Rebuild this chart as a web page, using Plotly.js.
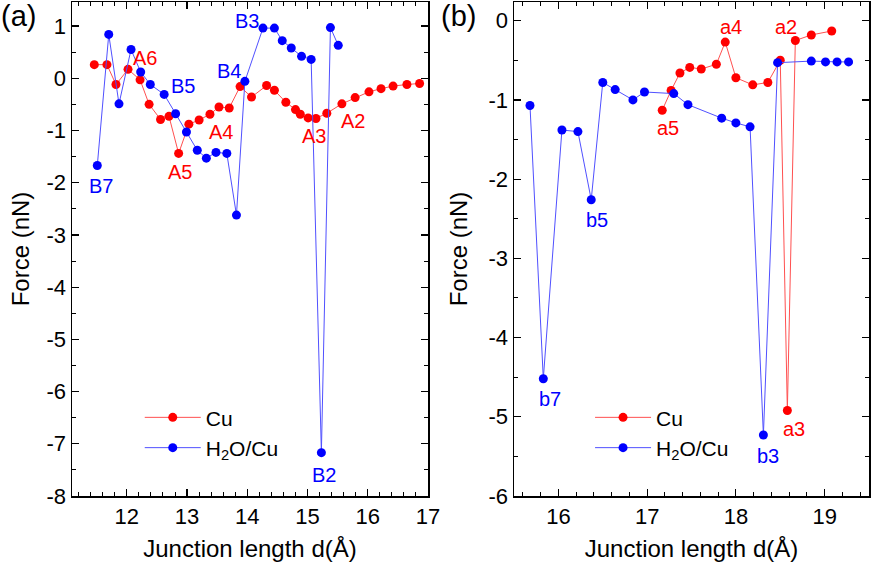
<!DOCTYPE html>
<html>
<head>
<meta charset="utf-8">
<script src="https://cdn.plot.ly/plotly-3.0.1.min.js"></script>
<style>
  html, body { margin: 0; padding: 0; background: #fff; }
  #chart { width: 872px; height: 578px; }
</style>
</head>
<body>
<div id="chart"></div>
<script>
// panel (a): Cu
let cuA_x = [11.46, 11.67, 11.82, 12.02, 12.22, 12.37, 12.56, 12.70, 12.86, 13.03, 13.20, 13.38, 13.53, 13.70,
    13.88, 14.07, 14.32, 14.45, 14.64, 14.80, 14.88, 15.01, 15.14, 15.32, 15.57, 15.79, 16.02, 16.22, 16.42, 16.65, 16.86];
let cuA_y = [0.26, 0.26, -0.12, 0.17, -0.03, -0.50, -0.79, -0.73, -1.44, -0.88, -0.80, -0.69, -0.55, -0.57,
    -0.16, -0.36, -0.14, -0.23, -0.46, -0.60, -0.69, -0.76, -0.77, -0.67, -0.49, -0.37, -0.26, -0.20, -0.15, -0.12, -0.10];
// panel (a): H2O/Cu
let waterA_x = [11.51, 11.70, 11.87, 12.07, 12.23, 12.39, 12.62, 12.81, 12.99, 13.17, 13.32, 13.48, 13.66, 13.82,
    13.96, 14.26, 14.45, 14.58, 14.73, 14.90, 15.06, 15.23, 15.38, 15.51];
let waterA_y = [-1.67, 0.84, -0.49, 0.55, 0.12, -0.12, -0.31, -0.68, -1.03, -1.38, -1.53, -1.42, -1.44, -2.62,
    -0.06, 0.96, 0.96, 0.72, 0.58, 0.42, 0.36, -7.17, 0.97, 0.63];

// panel (b): Cu
let cuB_x = [17.17, 17.27, 17.37, 17.48, 17.61, 17.78, 17.88, 18.00, 18.19, 18.36, 18.50, 18.58, 18.67, 18.85, 19.08];
let cuB_y = [-1.13, -0.88, -0.66, -0.59, -0.61, -0.55, -0.27, -0.72, -0.81, -0.78, -0.50, -4.92, -0.25, -0.18, -0.13];
// panel (b): H2O/Cu
let waterB_x = [15.68, 15.83, 16.04, 16.22, 16.37, 16.50, 16.64, 16.84, 16.97, 17.30, 17.46, 17.84, 18.00, 18.16,
    18.31, 18.47, 18.85, 19.01, 19.14, 19.27];
let waterB_y = [-1.07, -4.52, -1.38, -1.40, -2.26, -0.78, -0.87, -1.00, -0.90, -0.92, -1.06, -1.23, -1.29, -1.34,
    -5.23, -0.53, -0.51, -0.52, -0.52, -0.52];

// tick labels (plain hyphen minus as in the figure)
let yTicksA = [1, 0, -1, -2, -3, -4, -5, -6, -7, -8];
let yTicksB = [0, -1, -2, -3, -4, -5, -6];
let xTicksA = [12, 13, 14, 15, 16, 17];
let xTicksB = [16, 17, 18, 19];

// state labels
let labelsA_text = ['A6', 'B5', 'A4', 'A5', 'B7', 'B4', 'B3', 'A3', 'A2', 'B2'];
let labelsA_x = [12.31, 12.94, 13.56, 12.89, 11.57, 13.69, 13.99, 15.11, 15.75, 15.27];
let labelsA_y = [0.38, -0.15, -1.02, -1.79, -2.06, 0.13, 1.10, -1.10, -0.81, -7.60];
let labelsA_color = ['red', 'blue', 'red', 'red', 'blue', 'blue', 'blue', 'red', 'red', 'blue'];

let labelsB_text = ['a5', 'b5', 'a4', 'a2', 'b7', 'a3', 'b3'];
let labelsB_x = [17.23, 16.43, 17.95, 18.57, 15.90, 18.65, 18.36];
let labelsB_y = [-1.35, -2.51, -0.08, -0.08, -4.78, -5.16, -5.50];
let labelsB_color = ['red', 'blue', 'red', 'red', 'blue', 'red', 'blue'];

let font = 'Arial, "Liberation Sans", sans-serif';
let red = '#ff0000';
let blue = '#0000ff';

function series(x, y, name, color, lineColor, xa, ya, legend) {
    return {
        x: x, y: y, name: name, mode: 'lines+markers',
        xaxis: xa, yaxis: ya, legend: legend,
        line: {color: lineColor, width: 1},
        marker: {color: color, size: 9}
    };
}

let traces = [
    series(cuA_x, cuA_y, 'Cu', red, '#ff5050', 'x', 'y', 'legend'),
    series(waterA_x, waterA_y, 'H<sub>2</sub>O/Cu', blue, '#5050ff', 'x', 'y', 'legend'),
    series(cuB_x, cuB_y, 'Cu', red, '#ff5050', 'x2', 'y2', 'legend2'),
    series(waterB_x, waterB_y, 'H<sub>2</sub>O/Cu', blue, '#5050ff', 'x2', 'y2', 'legend2')
];

function xAxis(range, domain, ticks) {
    return {
        domain: domain, range: range, tickmode: 'array', tickvals: ticks,
        ticktext: ticks.map(String),
        ticks: 'inside', ticklen: 7, tickwidth: 1.2, tickcolor: '#000',
        minor: {dtick: 0.2, tick0: 0, ticks: 'inside', ticklen: 4, tickwidth: 1, tickcolor: '#000'},
        showline: true, linecolor: '#000', linewidth: 1.5, mirror: 'allticks',
        showgrid: false, zeroline: false,
        tickfont: {size: 22, color: '#000'},
        title: {text: 'Junction length d(Å)', font: {size: 24, color: '#000'}, standoff: 12}
    };
}

function yAxis(range, anchor, ticks, standoff) {
    return {
        range: range, anchor: anchor, tickmode: 'array', tickvals: ticks,
        ticktext: ticks.map(String),
        ticks: 'inside', ticklen: 7, tickwidth: 1.2, tickcolor: '#000',
        minor: {dtick: 0.5, tick0: 0, ticks: 'inside', ticklen: 4, tickwidth: 1, tickcolor: '#000'},
        showline: true, linecolor: '#000', linewidth: 1.5, mirror: 'allticks',
        showgrid: false, zeroline: false,
        tickfont: {size: 22, color: '#000'},
        title: {text: 'Force (nN)', font: {size: 24, color: '#000'}, standoff: standoff}
    };
}

let annotations = [];
labelsA_text.forEach(function (t, i) {
    annotations.push({x: labelsA_x[i], y: labelsA_y[i], xref: 'x', yref: 'y', text: t, showarrow: false,
        font: {size: 20, color: labelsA_color[i]}});
});
labelsB_text.forEach(function (t, i) {
    annotations.push({x: labelsB_x[i], y: labelsB_y[i], xref: 'x2', yref: 'y2', text: t, showarrow: false,
        font: {size: 20, color: labelsB_color[i]}});
});
annotations.push({x: -0.092, y: 1.008, xref: 'paper', yref: 'paper', xanchor: 'left', yanchor: 'top',
    text: '(a)', showarrow: false, font: {size: 29, color: '#000'}});
annotations.push({x: 0.46, y: 1.008, xref: 'paper', yref: 'paper', xanchor: 'left', yanchor: 'top',
    text: '(b)', showarrow: false, font: {size: 29, color: '#000'}});

let legendStyle = {
    bgcolor: 'rgba(0,0,0,0)', borderwidth: 0,
    font: {size: 21, color: '#000'}, tracegroupgap: 0,
    xanchor: 'left', yanchor: 'top', itemwidth: 56
};

let layout = {
    width: 872, height: 578,
    margin: {l: 72, r: 3, t: 2, b: 82},
    paper_bgcolor: '#fff', plot_bgcolor: '#fff',
    font: {family: font, color: '#000'},
    xaxis: xAxis([11.09, 17], [0, 0.4467], xTicksA),
    yaxis: yAxis([-8, 1.46], 'x', yTicksA, 10),
    xaxis2: xAxis([15.5, 19.5], [0.5546, 1], xTicksB),
    yaxis2: yAxis([-6, 0.236], 'x2', yTicksB, 14),
    legend: Object.assign({x: 0.085, y: 0.2}, legendStyle),
    legend2: Object.assign({x: 0.65, y: 0.2}, legendStyle),
    annotations: annotations,
    showlegend: true
};

Plotly.newPlot('chart', traces, layout, {staticPlot: true});
</script>
</body>
</html>
